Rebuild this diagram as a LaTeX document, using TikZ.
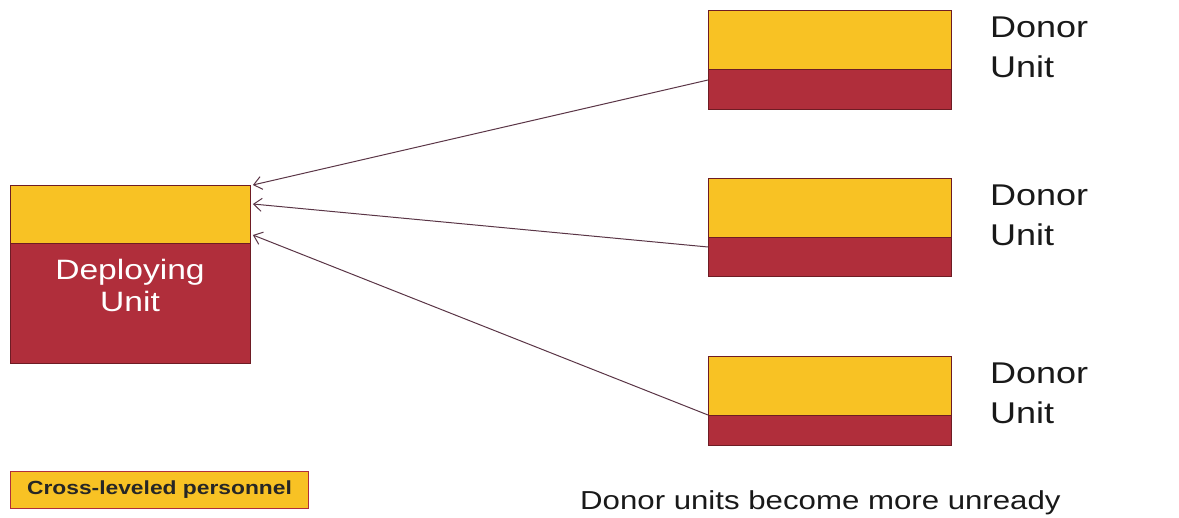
\documentclass[tikz,border=0pt]{standalone}
\usepackage{fontspec}
\usetikzlibrary{arrows.meta}
\newfontfamily\lsans[FakeStretch=1.2]{Liberation Sans}
\definecolor{uyellow}{HTML}{F8C224}
\definecolor{ured}{HTML}{B02E3B}
\definecolor{uedge}{HTML}{6E1C24}
\definecolor{arrcol}{HTML}{5A3546}
\begin{document}
\begin{tikzpicture}[x=1pt,y=-1pt,
  part/.style={draw=uedge, line width=0.9pt, inner sep=0pt, anchor=north west, minimum width=#1},
  ypart/.style={part=#1, fill=uyellow},
  rpart/.style={part=#1, fill=ured},
  donortext/.style={anchor=north west, inner sep=0pt, align=left, font=\lsans\fontsize{30}{40}\selectfont, text=black!90},
  arr/.style={draw=arrcol, line width=1pt, -{Straight Barb[length=8pt,width=13pt,line width=1pt]}}
]
\useasboundingbox (0,0) rectangle (1179,518);

% deploying unit
\node[rpart=240, minimum height=120] (depr) at (10,243) {};
\node[ypart=240, minimum height=58] (depy) at (10,185) {};
\node[anchor=north, inner sep=0pt, align=center, text=white,
      font=\lsans\fontsize{28}{32}\selectfont] (deptext) at (130,259) {Deploying\\Unit};

% donor units
\node[rpart=243, minimum height=40] (d1r) at (708,69) {};
\node[ypart=243, minimum height=59] (d1y) at (708,10) {};
\node[donortext] (d1t) at (990,17) {Donor\\Unit};

\node[rpart=243, minimum height=39] (d2r) at (708,237) {};
\node[ypart=243, minimum height=59] (d2y) at (708,178) {};
\node[donortext] (d2t) at (990,185) {Donor\\Unit};

\node[rpart=243, minimum height=30] (d3r) at (708,415) {};
\node[ypart=243, minimum height=59] (d3y) at (708,356) {};
\node[donortext] (d3t) at (990,363) {Donor\\Unit};

% connectors
\draw[arr] ([yshift=-11pt]d1r.north west) -- ([xshift=2pt]depy.north east);
\draw[arr] ([yshift=-10pt]d2r.north west) -- ([xshift=2pt,yshift=-19pt]depy.north east);
\draw[arr] (d3r.north west) -- ([xshift=2pt,yshift=-50pt]depy.north east);

% legend
\node[draw=ured, line width=1pt, fill=uyellow, anchor=north west, inner sep=0pt,
      minimum width=298, minimum height=37] (legend) at (10,471) {};
\node[inner sep=0pt, font=\lsans\bfseries\fontsize{19}{22}\selectfont, text=black!85] (legendtext) at (legend.center) {Cross-leveled personnel};

% caption
\node[anchor=base west, inner sep=0pt, font=\lsans\fontsize{26}{30}\selectfont, text=black!90] (caption) at (580,510) {Donor units become more unready};
\end{tikzpicture}
\end{document}
